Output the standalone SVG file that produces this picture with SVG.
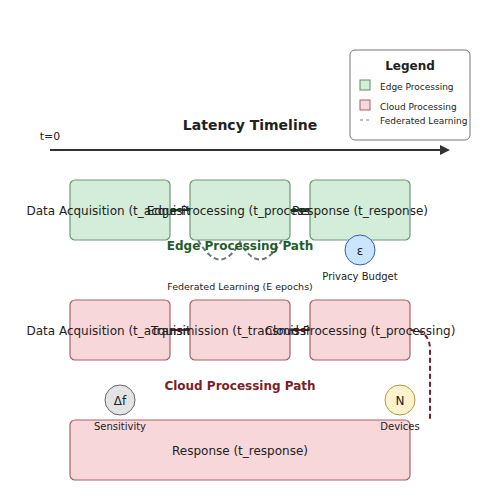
<svg xmlns="http://www.w3.org/2000/svg" width="500" height="500" viewBox="0 0 500 500">
<style>
text{font-family:"DejaVu Sans",sans-serif;fill:#222}
.edge rect{fill:#d4edda;stroke:#6a9a74;stroke-width:1.2}
.cloud rect{fill:#f8d7da;stroke:#a86068;stroke-width:1.2}
.lbl{font-size:12px;text-anchor:middle}
.small{font-size:10px;text-anchor:middle}
.leg{font-size:9px}
</style>
<defs>
<marker id="ah" viewBox="0 0 10 10" refX="0" refY="5" markerWidth="10" markerHeight="10" markerUnits="userSpaceOnUse" orient="auto">
<path d="M0,0 L10,5 L0,10 z" fill="#333"/>
</marker>
</defs>
<rect width="500" height="500" fill="#fff"/>
<g id="timeline">
<line x1="50" y1="150" x2="440" y2="150" stroke="#333" stroke-width="2" marker-end="url(#ah)"/>
<text x="50" y="140" class="small" style="font-size:11px">t=0</text>
<text x="250" y="130" style="font-size:14px;font-weight:bold;text-anchor:middle">Latency Timeline</text>
</g>
<g id="legend">
<rect x="350" y="50" width="120" height="90" rx="5" fill="#fff" stroke="#777" stroke-width="1"/>
<text x="410" y="70" style="font-size:12px;font-weight:bold;text-anchor:middle">Legend</text>
<rect x="360" y="80" width="10" height="10" fill="#d4edda" stroke="#5a8f65"/>
<text x="380" y="90" class="leg">Edge Processing</text>
<rect x="360" y="100" width="10" height="10" fill="#f8d7da" stroke="#a86068"/>
<text x="380" y="110" class="leg">Cloud Processing</text>
<line x1="360" y1="120" x2="370" y2="120" stroke="#aaa" stroke-width="1.5" stroke-dasharray="3,3"/>
<text x="380" y="124" class="leg">Federated Learning</text>
</g>
<g id="connectors">
<line x1="170" y1="210" x2="190" y2="210" stroke="#1e5e2a" stroke-width="2"/>
<line x1="290" y1="210" x2="310" y2="210" stroke="#1e5e2a" stroke-width="2"/>
<line x1="170" y1="330" x2="190" y2="330" stroke="#7a1f28" stroke-width="2"/>
<line x1="290" y1="330" x2="310" y2="330" stroke="#7a1f28" stroke-width="2"/>
<path d="M198,240 Q220,278 240,242 Q260,278 282,240" fill="none" stroke="#6c757d" stroke-width="2" stroke-dasharray="5,3"/>
<path d="M410,330 Q430,330 430,350 L430,420" fill="none" stroke="#7a1f28" stroke-width="2" stroke-dasharray="5,3"/>
</g>
<g id="edge-acq" class="edge"><rect x="70" y="180" width="100" height="60" rx="5"/><text x="120" y="215" class="lbl">Data Acquisition (t_acquisition)</text></g>
<g id="edge-proc" class="edge"><rect x="190" y="180" width="100" height="60" rx="5"/><text x="240" y="215" class="lbl">Edge Processing (t_processing)</text></g>
<g id="edge-resp" class="edge"><rect x="310" y="180" width="100" height="60" rx="5"/><text x="360" y="215" class="lbl">Response (t_response)</text></g>
<g id="cloud-acq" class="cloud"><rect x="70" y="300" width="100" height="60" rx="5"/><text x="120" y="335" class="lbl">Data Acquisition (t_acquisition)</text></g>
<g id="cloud-trans" class="cloud"><rect x="190" y="300" width="100" height="60" rx="5"/><text x="240" y="335" class="lbl">Transmission (t_transmission)</text></g>
<g id="cloud-proc" class="cloud"><rect x="310" y="300" width="100" height="60" rx="5"/><text x="360" y="335" class="lbl">Cloud Processing (t_processing)</text></g>
<g id="cloud-resp" class="cloud"><rect x="70" y="420" width="340" height="60" rx="5"/><text x="240" y="455" class="lbl">Response (t_response)</text></g>
<g id="labels">
<text x="240" y="250" style="font-size:12px;font-weight:bold;text-anchor:middle;fill:#1e5e2a">Edge Processing Path</text>
<text x="240" y="290" class="small" style="font-size:9.5px">Federated Learning (E epochs)</text>
<text x="240" y="390" style="font-size:12px;font-weight:bold;text-anchor:middle;fill:#7a1f28">Cloud Processing Path</text>
</g>
<g id="epsilon"><circle cx="360" cy="250" r="15" fill="#cce5ff" stroke="#2f64a8"/><text x="360" y="255" class="lbl">ε</text><text x="360" y="280" class="small">Privacy Budget</text></g>
<g id="sensitivity"><circle cx="120" cy="400" r="15" fill="#e2e3e5" stroke="#666"/><text x="120" y="405" class="lbl">Δf</text><text x="120" y="430" class="small">Sensitivity</text></g>
<g id="devices"><circle cx="400" cy="400" r="15" fill="#fff3cd" stroke="#b39a3e"/><text x="400" y="405" class="lbl">N</text><text x="400" y="430" class="small">Devices</text></g>
</svg>
